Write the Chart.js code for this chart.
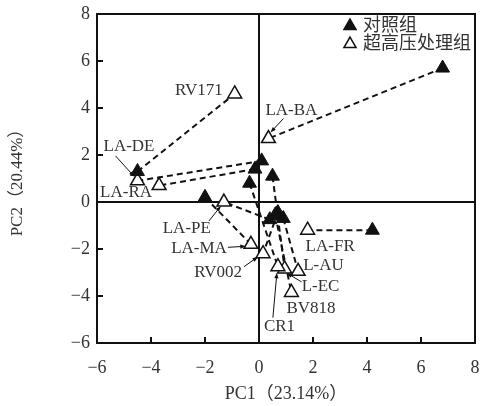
<!DOCTYPE html>
<html>
<head>
<meta charset="utf-8">
<script src="https://cdn.jsdelivr.net/npm/chart.js@4.4.0/dist/chart.umd.min.js"></script>
<style>
  html, body { margin: 0; padding: 0; background: #fff; }
  #wrap { width: 482px; height: 406px; }
</style>
</head>
<body>
<div id="wrap"><canvas id="pcaChart"></canvas></div>
<script>
// strain order is shared by every array below
const strains = ['RV171', 'LA-BA', 'LA-DE', 'LA-RA', 'LA-PE', 'LA-MA', 'RV002', 'LA-FR', 'L-AU', 'L-EC', 'BV818', 'CR1'];
// control group scores (filled triangles)
const ctrlPC1 = [-4.5, 6.8, 0.1, -0.15, 0.4, -2.0, 0.7, 4.2, 0.9, 0.5, 0.6, -0.35];
const ctrlPC2 = [1.3, 5.7, 1.75, 1.4, -0.75, 0.2, -0.45, -1.2, -0.7, 1.1, -0.55, 0.8];
// ultra-high-pressure group scores (open triangles)
const uhpPC1 = [-0.9, 0.35, -4.5, -3.7, -1.3, -0.3, 0.15, 1.8, 1.45, 0.95, 1.2, 0.7];
const uhpPC2 = [4.6, 2.7, 0.9, 0.7, 0.0, -1.8, -2.2, -1.2, -2.95, -2.85, -3.85, -2.75];
const groupNames = ['对照组', '超高压处理组'];
const axisTicks = [-6, -4, -2, 0, 2, 4, 6, 8];
const xTitle = 'PC1（23.14%）';
const yTitle = 'PC2（20.44%）';

// where each strain name sits relative to its open triangle (px), and optional leader arrow
const labelPlace = {
  'RV171': { dx: -12, dy: -3, align: 'right' },
  'LA-BA': { dx: -3, dy: -28, align: 'left', arrow: [15, -20, 2, -6] },
  'LA-DE': { dx: -34, dy: -34, align: 'left', arrow: [-22, -25, -3, -4] },
  'LA-RA': { dx: -59, dy: 7, align: 'left' },
  'LA-PE': { dx: -13, dy: 27, align: 'right', arrow: [-15, 19, -3, 4] },
  'LA-MA': { dx: -24, dy: 4, align: 'right', arrow: [-23, 3, -5, 2] },
  'RV002': { dx: -21, dy: 19, align: 'right', arrow: [-19, 13, -5, 3] },
  'LA-FR': { dx: -2, dy: 16, align: 'left' },
  'L-AU': { dx: 5, dy: -6, align: 'left' },
  'L-EC': { dx: 17, dy: 18, align: 'left', arrow: [17, 13, 2, 4] },
  'BV818': { dx: -5, dy: 16, align: 'left' },
  'CR1': { dx: -14, dy: 60, align: 'left', arrow: [-5, 51, -1, 6] }
};

const serif = '"Liberation Serif", "Noto Sans CJK SC", serif';
const ink = '#111';
const textInk = '#333';

function minusSign(v) {
  return String(v).replace('-', '\u2212');
}

function drawArrow(ctx, x1, y1, x2, y2) {
  const ang = Math.atan2(y2 - y1, x2 - x1);
  const len = 6;
  ctx.beginPath();
  ctx.moveTo(x1, y1);
  ctx.lineTo(x2 - Math.cos(ang) * 3, y2 - Math.sin(ang) * 3);
  ctx.stroke();
  ctx.beginPath();
  ctx.moveTo(x2, y2);
  ctx.lineTo(x2 - len * Math.cos(ang - 0.35), y2 - len * Math.sin(ang - 0.35));
  ctx.lineTo(x2 - len * Math.cos(ang + 0.35), y2 - len * Math.sin(ang + 0.35));
  ctx.closePath();
  ctx.fill();
}

const framePlugin = {
  id: 'frame',
  beforeDatasetsDraw(chart) {
    const { ctx, chartArea: a, scales: { x, y } } = chart;
    ctx.save();
    ctx.strokeStyle = ink;
    ctx.lineWidth = 2;
    ctx.beginPath();
    ctx.moveTo(x.getPixelForValue(0), a.top);
    ctx.lineTo(x.getPixelForValue(0), a.bottom);
    ctx.moveTo(a.left, y.getPixelForValue(0));
    ctx.lineTo(a.right, y.getPixelForValue(0));
    ctx.stroke();
    ctx.restore();
  },
  afterDatasetsDraw(chart) {
    const { ctx, chartArea: a, scales: { x, y } } = chart;
    ctx.save();
    ctx.strokeStyle = ink;
    ctx.lineWidth = 2;
    ctx.strokeRect(a.left, a.top, a.right - a.left, a.bottom - a.top);
    // inward tick marks on bottom and left
    ctx.beginPath();
    x.ticks.forEach(t => {
      const px = x.getPixelForValue(t.value);
      ctx.moveTo(px, a.bottom);
      ctx.lineTo(px, a.bottom - 6);
    });
    y.ticks.forEach(t => {
      const py = y.getPixelForValue(t.value);
      ctx.moveTo(a.left, py);
      ctx.lineTo(a.left + 6, py);
    });
    ctx.stroke();
    ctx.restore();
  },
  afterDraw(chart) {
    const { ctx, chartArea: a, scales: { x, y } } = chart;
    ctx.save();
    // strain labels with leader arrows
    ctx.font = '17px ' + serif;
    ctx.textBaseline = 'middle';
    ctx.lineWidth = 1;
    strains.forEach((name, i) => {
      const p = labelPlace[name];
      const px = x.getPixelForValue(uhpPC1[i]);
      const py = y.getPixelForValue(uhpPC2[i]);
      ctx.fillStyle = textInk;
      ctx.textAlign = p.align;
      ctx.fillText(name, px + p.dx, py + p.dy);
      if (p.arrow) {
        ctx.strokeStyle = ink;
        ctx.fillStyle = ink;
        drawArrow(ctx, px + p.arrow[0], py + p.arrow[1], px + p.arrow[2], py + p.arrow[3]);
      }
    });
    // legend in the top right corner
    const lx = a.right - 125;
    groupNames.forEach((name, i) => {
      const ly = a.top + 12 + i * 18;
      ctx.fillStyle = i === 0 ? ink : '#fff';
      ctx.strokeStyle = ink;
      ctx.lineWidth = 1.5;
      Chart.helpers.drawPoint(ctx, { pointStyle: 'triangle', radius: 7, rotation: 0, borderWidth: 1.5 }, lx, ly);
      ctx.fillStyle = textInk;
      ctx.textAlign = 'left';
      ctx.font = '18px ' + serif;
      ctx.fillText(name, lx + 13, ly);
    });
    ctx.restore();
  }
};

const pairLines = strains.map((name, i) => ({
  type: 'line',
  label: name,
  data: [{ x: ctrlPC1[i], y: ctrlPC2[i] }, { x: uhpPC1[i], y: uhpPC2[i] }],
  borderColor: ink,
  borderWidth: 2,
  borderDash: [6, 4],
  pointRadius: 0,
  fill: false,
  order: 3
}));

new Chart(document.getElementById('pcaChart'), {
  type: 'scatter',
  data: {
    datasets: [
      {
        label: groupNames[1],
        data: uhpPC1.map((v, i) => ({ x: v, y: uhpPC2[i] })),
        pointStyle: 'triangle',
        pointRadius: 8,
        backgroundColor: '#fff',
        borderColor: ink,
        borderWidth: 1.5,
        order: 2
      },
      {
        label: groupNames[0],
        data: ctrlPC1.map((v, i) => ({ x: v, y: ctrlPC2[i] })),
        pointStyle: 'triangle',
        pointRadius: 8,
        backgroundColor: ink,
        borderColor: ink,
        borderWidth: 1,
        order: 1
      },
      ...pairLines
    ]
  },
  options: {
    responsive: true,
    maintainAspectRatio: false,
    animation: false,
    layout: { autoPadding: false, padding: { left: 0, right: 7, top: 14, bottom: 0 } },
    plugins: {
      legend: { display: false },
      tooltip: { enabled: false }
    },
    scales: {
      x: {
        type: 'linear',
        min: -6,
        max: 8,
        afterBuildTicks: s => { s.ticks = axisTicks.map(v => ({ value: v })); },
        afterFit: s => { s.height = 63; s.paddingLeft = 0; s.paddingRight = 0; },
        grid: { display: false, drawTicks: false },
        border: { display: false },
        ticks: {
          padding: 14,
          color: textInk,
          font: { family: serif, size: 18 },
          callback: v => minusSign(v)
        },
        title: {
          display: true,
          text: xTitle,
          color: textInk,
          font: { family: serif, size: 18 },
          padding: { top: 0, bottom: 1 }
        }
      },
      y: {
        type: 'linear',
        min: -6,
        max: 8,
        afterBuildTicks: s => { s.ticks = axisTicks.map(v => ({ value: v })); },
        afterFit: s => { s.width = 97; s.paddingTop = 0; s.paddingBottom = 0; },
        grid: { display: false, drawTicks: false },
        border: { display: false },
        ticks: {
          padding: 7,
          color: textInk,
          font: { family: serif, size: 18 },
          callback: v => minusSign(v)
        },
        title: {
          display: true,
          text: yTitle,
          color: textInk,
          font: { family: serif, size: 17 },
          padding: { top: 7, bottom: 0 }
        }
      }
    }
  },
  plugins: [framePlugin]
});
</script>
</body>
</html>
